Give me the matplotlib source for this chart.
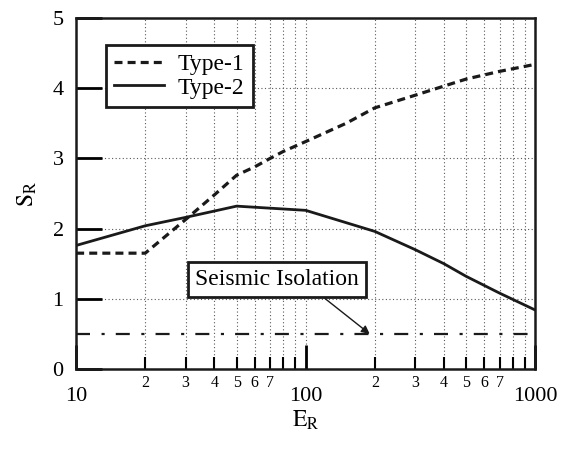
import matplotlib
matplotlib.use("Agg")
import matplotlib.pyplot as plt
from matplotlib.ticker import LogLocator, FixedLocator, FuncFormatter

plt.rcParams['font.family'] = ['Liberation Serif', 'DejaVu Serif']
plt.rcParams['mathtext.fontset'] = 'stix'

# data
er_type1 = [10, 20, 30, 40, 50, 60, 70, 80, 100, 150, 200, 300, 400, 500, 700, 1000]
sr_type1 = [1.65, 1.65, 2.13, 2.48, 2.76, 2.88, 3.0, 3.1, 3.24, 3.5, 3.72, 3.9, 4.03, 4.13, 4.24, 4.34]

er_type2 = [10, 20, 30, 50, 100, 200, 300, 400, 500, 700, 1000]
sr_type2 = [1.76, 2.04, 2.16, 2.32, 2.26, 1.96, 1.70, 1.50, 1.32, 1.08, 0.84]

er_iso = [10, 1000]
sr_iso = [0.5, 0.5]

minor_labels = [2, 3, 4, 5, 6, 7]

fig = plt.figure(figsize=(5.64, 4.5), dpi=100)
ax = fig.add_axes([0.135, 0.18, 0.814, 0.78])

ax.plot(er_type1, sr_type1, color='#1a1a1a', lw=2.3, ls=(0, (2.5, 1.6)), label='Type-1')
ax.plot(er_type2, sr_type2, color='#1a1a1a', lw=2.0, ls='-', label='Type-2')
ax.plot(er_iso, sr_iso, color='#1a1a1a', lw=1.6, ls=(0, (6.3, 5.2, 1.4, 5.0)))

ax.set_xscale('log')
ax.set_xlim(10, 1000)
ax.set_ylim(0, 5)

ax.xaxis.set_major_locator(FixedLocator([10, 100, 1000]))
ax.xaxis.set_major_formatter(FuncFormatter(lambda v, p: '%d' % round(v)))
ax.xaxis.set_minor_locator(LogLocator(base=10, subs=range(2, 10)))


def minor_fmt(v, pos):
    lead = int(round(v / 10 ** (len(str(int(round(v)))) - 1)))
    return str(lead) if lead in minor_labels else ''


ax.xaxis.set_minor_formatter(FuncFormatter(minor_fmt))
ax.set_yticks([0, 1, 2, 3, 4, 5])

ax.tick_params(axis='x', which='major', direction='in', length=17, width=2,
               labelsize=16, pad=13, top=False)
ax.tick_params(axis='x', which='minor', direction='in', length=9, width=1.5,
               labelsize=11.5, pad=4, top=False)
ax.tick_params(axis='y', which='major', direction='in', length=19, width=2,
               labelsize=16, pad=9, right=False)

ax.grid(which='both', axis='x', ls=(0, (1, 2.2)), lw=0.8, color='0.35')
ax.grid(which='major', axis='y', ls=(0, (1, 2.2)), lw=0.8, color='0.35')
ax.set_axisbelow(True)

for sp in ax.spines.values():
    sp.set_linewidth(1.8)
    sp.set_color('#1a1a1a')

ax.set_xlabel(r'$\mathrm{E_R}$', fontsize=17, labelpad=2)
ax.set_ylabel(r'$\mathrm{S_R}$', fontsize=17, labelpad=10)

leg = ax.legend(loc='upper left', bbox_to_anchor=(0.065, 0.923), borderaxespad=0,
                fontsize=17, fancybox=False, framealpha=1, edgecolor='#1a1a1a',
                handlelength=2.1, handletextpad=0.6, labelspacing=0.1,
                borderpad=0.35)
leg.get_frame().set_linewidth(2)

ax.annotate('Seismic Isolation', xy=(190, 0.5), xytext=(75, 1.27),
            ha='center', va='center', fontsize=17,
            bbox=dict(boxstyle='square,pad=0.3', fc='white', ec='#1a1a1a', lw=2),
            arrowprops=dict(arrowstyle='-|>', color='#1a1a1a', lw=1,
                            relpos=(0.73, 0), shrinkA=0, shrinkB=0,
                            mutation_scale=12))

fig.savefig('out.png', dpi=100)
